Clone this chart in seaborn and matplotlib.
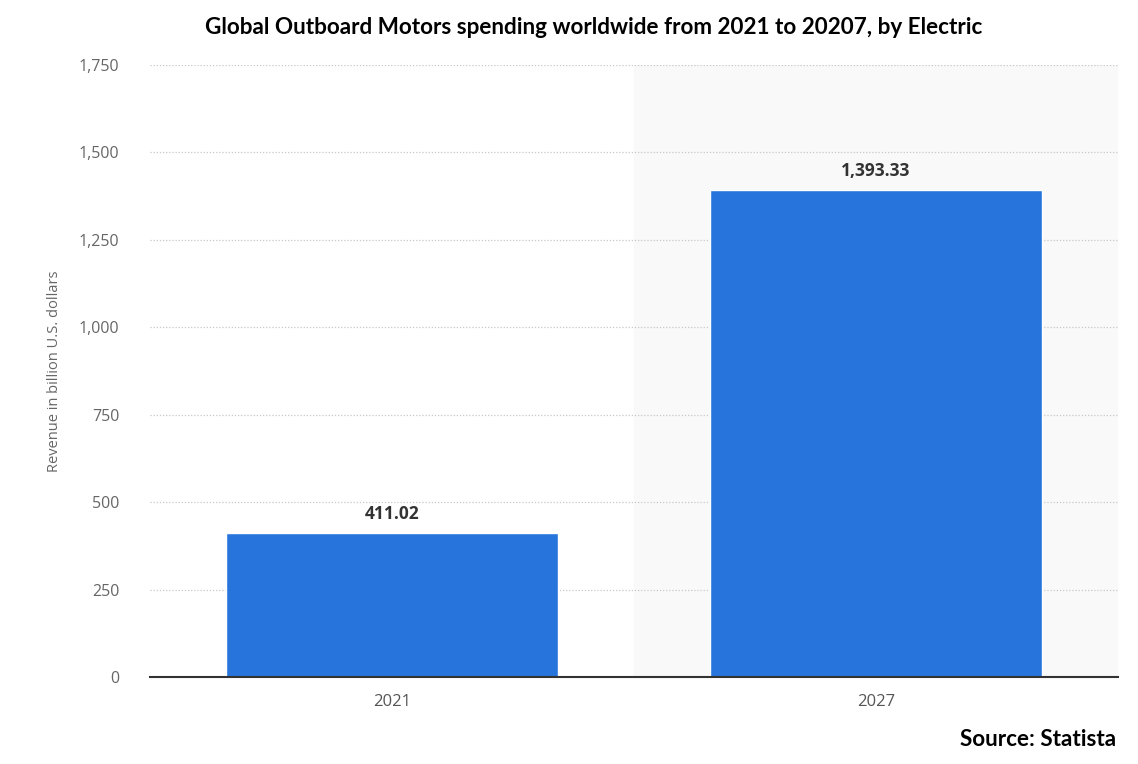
import matplotlib
matplotlib.use('Agg')
import matplotlib.pyplot as plt
import seaborn as sns
import pandas as pd

# Chart data
years = ['2021', '2027']
revenue = [411.02, 1393.33]
value_labels = ['411.02', '1,393.33']
y_ticks = [0, 250, 500, 750, 1000, 1250, 1500, 1750]

df = pd.DataFrame({'year': years, 'revenue': revenue})

sns.set_theme(style='white')
plt.rcParams['font.family'] = ['Open Sans', 'DejaVu Sans']

fig = plt.figure(figsize=(11.38, 7.64), dpi=100)
ax = fig.add_axes([150 / 1138, 1 - 677 / 764, 968 / 1138, 612 / 764])

# shaded forecast area
ax.axvspan(0.5, 1.5, color='#f9f9f9', zorder=0)

sns.barplot(data=df, x='year', y='revenue', color='#2775dc', width=0.686,
            saturation=1, ax=ax, zorder=3)

for i, lab in enumerate(value_labels):
    ax.text(i, revenue[i] + 28, lab, ha='center', va='bottom',
            fontsize=12.5, fontweight='bold', color='#333333', zorder=4)

ax.set_xlim(-0.5, 1.5)
ax.set_ylim(0, 1750)
ax.set_yticks(y_ticks)
ax.set_yticklabels([f'{t:,}' for t in y_ticks])
ax.yaxis.grid(True, linestyle=(0, (1, 1.5)), color='#c8c8c8', linewidth=0.9, zorder=1)
ax.set_axisbelow(True)

for s in ['top', 'right', 'left']:
    ax.spines[s].set_visible(False)
ax.spines['bottom'].set_color('#333333')
ax.spines['bottom'].set_linewidth(1.5)
ax.spines['bottom'].set_zorder(5)

ax.tick_params(axis='y', length=0, pad=22, labelsize=11.5, labelcolor='#666666')
ax.tick_params(axis='x', length=0, pad=12, labelsize=12, labelcolor='#555555')
ax.set_xlabel('')
ax.set_ylabel('Revenue in billion U.S. dollars', fontsize=10.5, color='#666666', labelpad=12)

fig.text(594 / 1138, 1 - 27 / 764, 'Global Outboard Motors spending worldwide from 2021 to 20207, by Electric',
         ha='center', va='center', fontsize=16.2, fontweight='bold', color='black', family='Lato')
fig.text(1116 / 1138, 1 - 740 / 764, 'Source: Statista', ha='right', va='center',
         fontsize=16.2, fontweight='bold', color='black', family='Lato')

fig.savefig('out.png', dpi=100)
